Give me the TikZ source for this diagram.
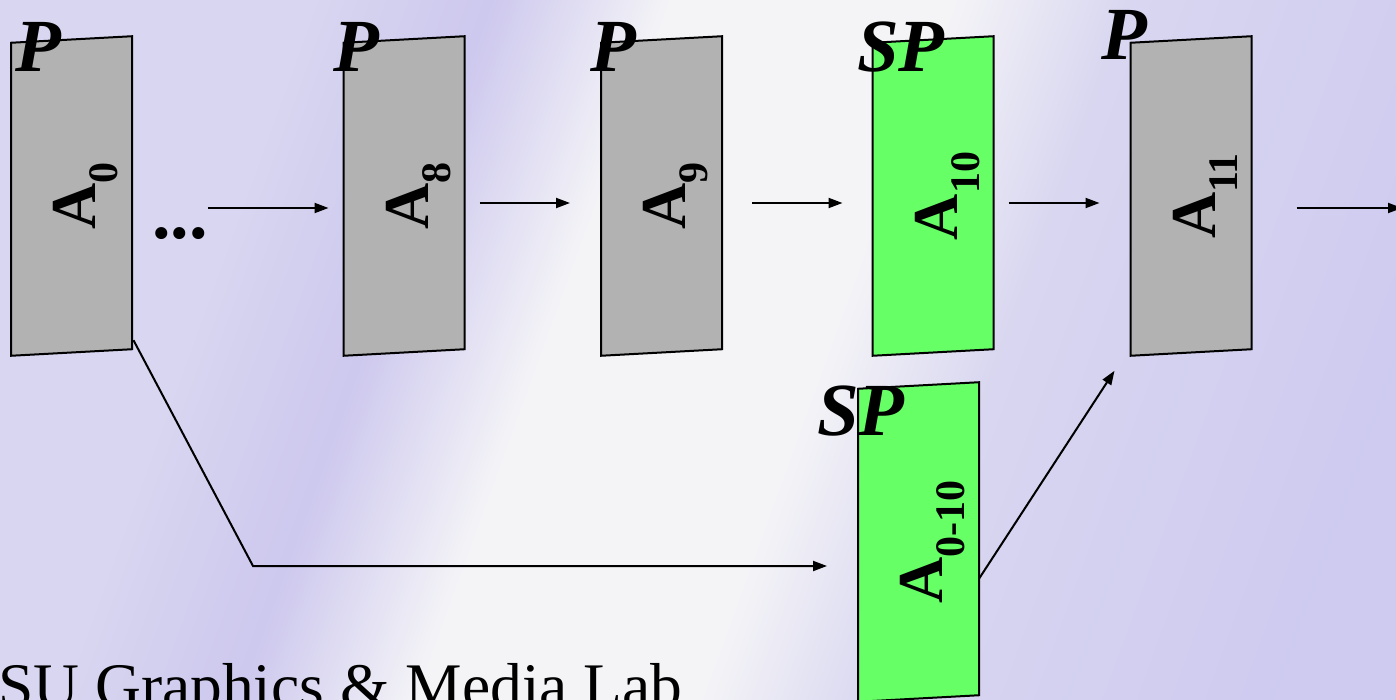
\documentclass[tikz,border=0pt]{standalone}
\usepackage{fontspec}
\setmainfont{Liberation Serif}
\usetikzlibrary{arrows.meta,calc}

\definecolor{lav}{RGB}{216,214,240}
\definecolor{lavstreak}{RGB}{205,200,238}
\definecolor{lavdeep}{RGB}{206,202,240}
\definecolor{haze}{RGB}{244,244,247}
\definecolor{framegray}{RGB}{178,178,178}
\definecolor{framegreen}{RGB}{102,255,102}

\pgfdeclarehorizontalshading{backdrop}{100bp}{%
  color(0bp)=(lav); color(30bp)=(lav); color(37bp)=(lavstreak);
  color(44bp)=(haze); color(55bp)=(haze); color(62bp)=(lav);
  color(78bp)=(lavdeep); color(100bp)=(lavdeep)}

% lowered subscript for the rotated frame labels
\newcommand\lowsub[1]{\raisebox{-22pt}{\fontsize{42}{42}\selectfont\bfseries #1}}

\begin{document}
\begin{tikzpicture}[x=1pt,y=-1pt,
  frame/.style={draw=black, line width=2pt, minimum width=121pt,
    minimum height=313pt, inner sep=0pt, outer sep=0pt, yslant=0.054},
  pframe/.style={frame, fill=framegray},
  spframe/.style={frame, fill=framegreen},
  flabel/.style={rotate=90, anchor=base, inner sep=0pt,
    font=\fontsize{64}{64}\selectfont\bfseries},
  ptype/.style={anchor=base, inner sep=0pt,
    font=\fontsize{75}{75}\selectfont\bfseries\itshape},
  conn/.style={line width=2pt, -{Triangle[length=14pt,width=10pt]}},
]
\useasboundingbox (0,0) rectangle (1396,700);
\clip (0,0) rectangle (1396,700);

% background
\shade[shading=backdrop, shading angle=-20] (0,0) rectangle (1396,700);

% frames
\node[pframe]  (f0)  at (71.5,196) {};
\node[pframe]  (f8)  at (404,196) {};
\node[pframe]  (f9)  at (661.5,196) {};
\node[spframe] (f10) at (933,196) {};
\node[pframe]  (f11) at (1191,196) {};
\node[spframe] (fx)  at (918.5,542) {};

% frame names
\node[flabel] (l0)  at ($(f0.center)+(24,0)$)  {A\lowsub{0}};
\node[flabel] (l8)  at ($(f8.center)+(24,0)$)  {A\lowsub{8}};
\node[flabel] (l9)  at ($(f9.center)+(24,0)$)  {A\lowsub{9}};
\node[flabel] (l10) at ($(f10.center)+(24,0)$) {A\lowsub{10}};
\node[flabel] (l11) at ($(f11.center)+(24,0)$) {A\lowsub{11}};
\node[flabel] (lx)  at ($(fx.center)+(24,0)$)  {A\lowsub{0-10}};

% frame types
\node[ptype] (p0)  at (38,72)   {P};
\node[ptype] (p8)  at (356,72)  {P};
\node[ptype] (p9)  at (613,72)  {P};
\node[ptype] (p10) at (901,72)  {SP};
\node[ptype] (p11) at (1124,60) {P};
\node[ptype] (px)  at (861,435) {SP};

\node[anchor=base, inner sep=0pt, font=\fontsize{74}{74}\selectfont\bfseries]
  (dots) at (180,239) {...};

% connectors
\coordinate (rowA) at (0,208);
\coordinate (rowB) at (0,203);
\coordinate (bend) at (253,566);
\coordinate (out)  at (1402,208);

\draw[conn] (dots.east |- rowA) -- ($(f8.west |- rowA)+(-15,0)$);
\draw[conn] ($(f8.east |- rowB)+(15,0)$)  -- ($(f9.west |- rowB)+(-31,0)$);
\draw[conn] ($(f9.east |- rowB)+(30,0)$)  -- ($(f10.west |- rowB)+(-30,0)$);
\draw[conn] ($(f10.east |- rowB)+(15,0)$) -- ($(f11.west |- rowB)+(-31,0)$);
\draw[conn] ($(f11.east |- rowA)+(45,0)$) -- (out);
\draw[conn] ($(f0.south east)+(1.5,-9)$) -- (bend) -- ($(bend -| fx.west)+(-31,0)$);
\draw[conn] ($(fx.east)+(0,40)$) -- ($(f11.south west)+(-16,15)$);

% footer
\node[anchor=base west, inner sep=0pt, font=\fontsize{63.5}{63.5}\selectfont]
  (lab) at (-2,707) {SU Graphics \& Media Lab};
\end{tikzpicture}
\end{document}
